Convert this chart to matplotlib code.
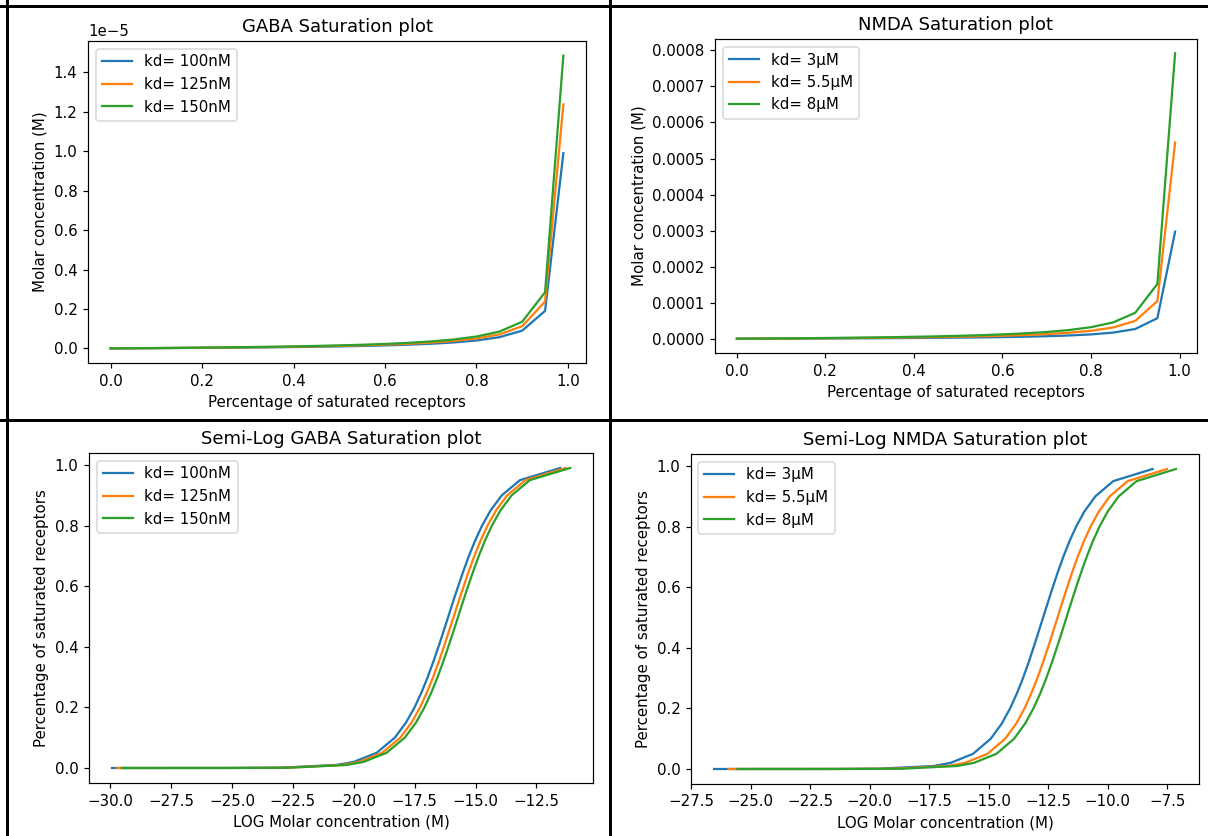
import numpy as np
import matplotlib
matplotlib.use("Agg")
import matplotlib.pyplot as plt
from matplotlib.lines import Line2D

# fraction of saturated receptors (x of the linear plots)
saturation = [0.000001, 0.0001, 0.001, 0.01, 0.02, 0.05, 0.1, 0.15, 0.2, 0.25,
              0.3, 0.35, 0.4, 0.45, 0.5, 0.55, 0.6, 0.65, 0.7, 0.75,
              0.8, 0.85, 0.9, 0.95, 0.99]

# GABA concentrations, nM
gaba_labels = ["kd= 100nM", "kd= 125nM", "kd= 150nM"]
gaba_100 = [0.0001, 0.01, 0.1, 1.01, 2.04, 5.26, 11.1, 17.6, 25.0, 33.3,
            42.9, 53.8, 66.7, 81.8, 100, 122, 150, 186, 233, 300,
            400, 567, 900, 1900, 9900]
gaba_125 = [0.000125, 0.0125, 0.125, 1.26, 2.55, 6.58, 13.9, 22.1, 31.3, 41.7,
            53.6, 67.3, 83.3, 102, 125, 153, 188, 232, 292, 375,
            500, 708, 1125, 2375, 12375]
gaba_150 = [0.00015, 0.015, 0.15, 1.52, 3.06, 7.89, 16.7, 26.5, 37.5, 50.0,
            64.3, 80.8, 100, 123, 150, 183, 225, 279, 350, 450,
            600, 850, 1350, 2850, 14850]

# NMDA concentrations, uM
nmda_labels = ["kd= 3µM", "kd= 5.5µM", "kd= 8µM"]
nmda_3 = [0.000003, 0.0003, 0.003, 0.0303, 0.0612, 0.158, 0.333, 0.529, 0.75, 1.0,
          1.29, 1.62, 2.0, 2.45, 3.0, 3.67, 4.5, 5.57, 7.0, 9.0,
          12.0, 17.0, 27.0, 57.0, 297]
nmda_55 = [0.0000055, 0.00055, 0.0055, 0.0556, 0.112, 0.289, 0.611, 0.971, 1.375, 1.83,
           2.36, 2.96, 3.67, 4.5, 5.5, 6.72, 8.25, 10.2, 12.8, 16.5,
           22.0, 31.2, 49.5, 104.5, 544.5]
nmda_8 = [0.000008, 0.0008, 0.008, 0.0808, 0.163, 0.421, 0.889, 1.41, 2.0, 2.67,
          3.43, 4.31, 5.33, 6.55, 8.0, 9.78, 12.0, 14.9, 18.7, 24.0,
          32.0, 45.3, 72.0, 152, 792]

W, H = 1208, 836
DPI = 108  # slightly larger than 100 so text and lines match the screenshot scale
fig = plt.figure(figsize=(W / DPI, H / DPI), dpi=DPI)


def axes_px(left, top, right, bottom):
    # place an axes from pixel edges
    return fig.add_axes([left / W, 1 - bottom / H, (right - left) / W, (bottom - top) / H])


gaba = [np.array(s) * 1e-9 for s in (gaba_100, gaba_125, gaba_150)]
nmda = [np.array(s) * 1e-6 for s in (nmda_3, nmda_55, nmda_8)]

# linear plots
ax1 = axes_px(88, 41, 586, 363)
for conc, lab in zip(gaba, gaba_labels):
    ax1.plot(saturation, conc, label=lab)
ax1.set_title("GABA Saturation plot")
ax1.set_xlabel("Percentage of saturated receptors")
ax1.set_ylabel("Molar concentration (M)")
ax1.legend(loc="upper left")

ax2 = axes_px(715, 39, 1197, 353)
for conc, lab in zip(nmda, nmda_labels):
    ax2.plot(saturation, conc, label=lab)
ax2.set_title("NMDA Saturation plot")
ax2.set_xlabel("Percentage of saturated receptors")
ax2.set_ylabel("Molar concentration (M)")
ax2.legend(loc="upper left")

# semi-log plots
ax3 = axes_px(89, 453, 593, 783)
for conc, lab in zip(gaba, gaba_labels):
    ax3.plot(np.log(conc), saturation, label=lab)
ax3.set_title("Semi-Log GABA Saturation plot")
ax3.set_xlabel("LOG Molar concentration (M)")
ax3.set_ylabel("Percentage of saturated receptors")
ax3.legend(loc="upper left")

ax4 = axes_px(691, 454, 1199, 784)
for conc, lab in zip(nmda, nmda_labels):
    ax4.plot(np.log(conc), saturation, label=lab)
ax4.set_title("Semi-Log NMDA Saturation plot")
ax4.set_xlabel("LOG Molar concentration (M)")
ax4.set_ylabel("Percentage of saturated receptors")
ax4.legend(loc="upper left")

# table borders around the four panels
for xs, ys in [((7, 7), (0, H)), ((0, W), (6, 6)), ((610, 610), (0, H)), ((0, W), (420, 420))]:
    fig.add_artist(Line2D([x / W for x in xs], [1 - y / H for y in ys],
                          color="black", linewidth=2.0, transform=fig.transFigure))

fig.savefig("out.png", dpi=DPI)
